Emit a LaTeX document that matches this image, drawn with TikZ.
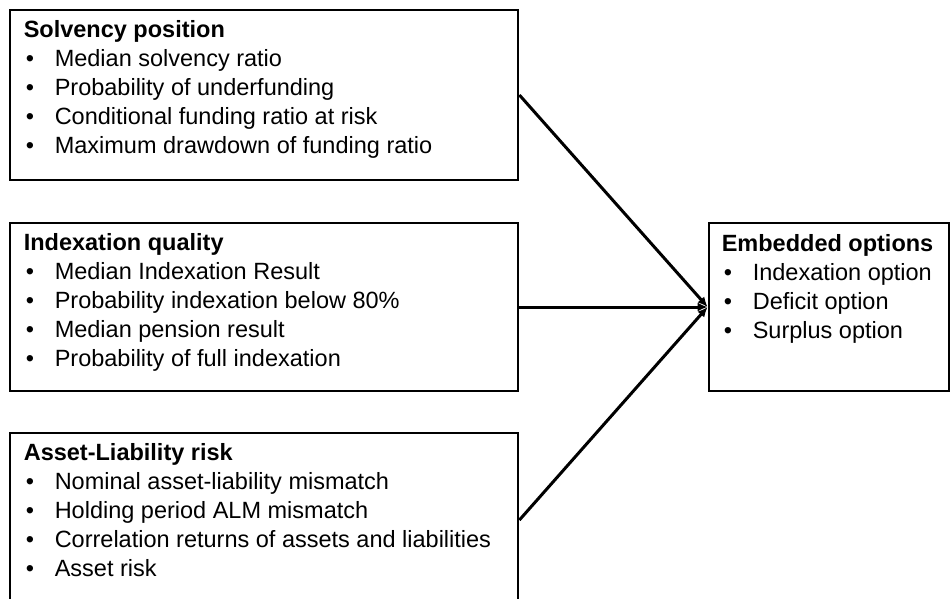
\documentclass[tikz,border=0pt]{standalone}
\usepackage{fontspec}
\setmainfont{Liberation Sans}
\usetikzlibrary{arrows.meta}

\begin{document}
\begin{tikzpicture}[x=1pt,y=-1pt,
   panel/.style={draw,line width=2.8pt,inner sep=0pt,minimum width=508pt},
   txt/.style={anchor=base west,inner sep=0pt,font=\fontsize{23.5}{29}\selectfont},
   conn/.style={line width=3pt,-{Latex[length=10pt,width=9pt]}}]
   \newcommand{\blt}{\makebox[31pt][l]{\hspace{2pt}\textbullet}}
   \useasboundingbox (0,0) rectangle (952,598);
   % boxes
   \node[panel,minimum height=170pt] (solv) at (264,95) {};
   \node[panel,minimum height=168pt] (index) at (264,307) {};
   \node[panel,minimum height=174pt] (alm) at (264,520) {};
   \node[panel,minimum width=240pt,minimum height=168pt] (emb) at (829,307) {};
   % texts
   \node[txt] (solvtxt) at ([shift={(15,29)}]solv.north west) {%
    \begin{tabular}[t]{@{}l@{}}
     \textbf{Solvency position}\\
     \blt Median solvency ratio\\
     \blt Probability of underfunding\\
     \blt Conditional funding ratio at risk\\
     \blt Maximum drawdown of funding ratio
    \end{tabular}};
   \node[txt] (indextxt) at ([shift={(15,29)}]index.north west) {%
    \begin{tabular}[t]{@{}l@{}}
     \textbf{Indexation quality}\\
     \blt Median Indexation Result\\
     \blt Probability indexation below 80\%\\
     \blt Median pension result\\
     \blt Probability of full indexation
    \end{tabular}};
   \node[txt] (almtxt) at ([shift={(15,29)}]alm.north west) {%
    \begin{tabular}[t]{@{}l@{}}
     \textbf{Asset-Liability risk}\\
     \blt Nominal asset-liability mismatch\\
     \blt Holding period ALM mismatch\\
     \blt Correlation returns of assets and liabilities\\
     \blt Asset risk
    \end{tabular}};
   \node[txt] (embtxt) at ([shift={(14,30)}]emb.north west) {%
    \begin{tabular}[t]{@{}l@{}}
     \textbf{Embedded options}\\
     \blt Indexation option\\
     \blt Deficit option\\
     \blt Surplus option
    \end{tabular}};
   % connectors
   \draw[conn] (solv.east) -- (emb.west);
   \draw[conn] (index.east) -- (emb.west);
   \draw[conn] (alm.east) -- (emb.west);
\end{tikzpicture}
\end{document}
